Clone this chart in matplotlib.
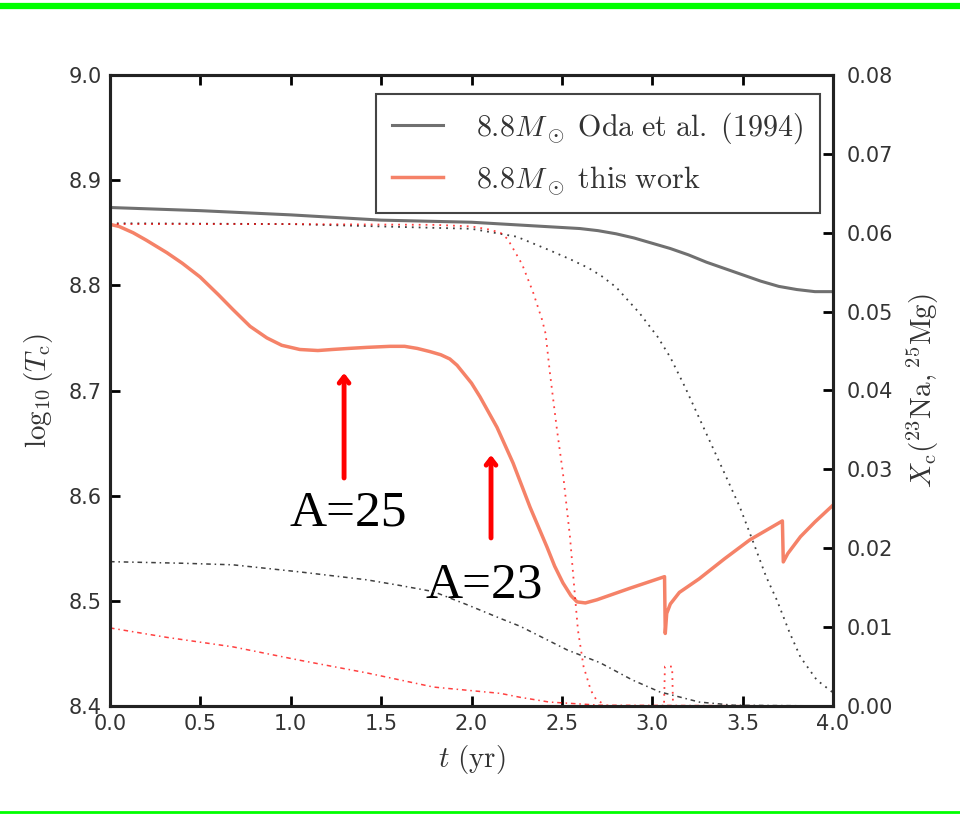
import numpy as np
import matplotlib
matplotlib.use("Agg")
import matplotlib.pyplot as plt
from matplotlib.lines import Line2D

plt.rcParams['mathtext.fontset'] = 'cm'

### central temperature, left axis
t_oda = [0.0, 0.5, 1.0, 1.5, 2.0, 2.3, 2.6, 2.7, 2.8, 2.9, 3.0, 3.1, 3.2,
         3.3, 3.4, 3.5, 3.6, 3.7, 3.8, 3.9, 4.0]
logT_oda = [8.874, 8.871, 8.867, 8.862, 8.860, 8.857, 8.854, 8.852, 8.849,
            8.845, 8.840, 8.835, 8.829, 8.822, 8.816, 8.810, 8.804, 8.799,
            8.796, 8.794, 8.794]

t_this = [0.0, 0.05, 0.128, 0.2, 0.315, 0.4, 0.498, 0.6, 0.68, 0.775, 0.868,
          0.95, 1.05, 1.15, 1.23, 1.32, 1.42, 1.55, 1.63, 1.70, 1.77, 1.83,
          1.88, 1.92, 1.953, 2.0, 2.047, 2.141, 2.230, 2.324, 2.418, 2.46,
          2.506, 2.55, 2.584, 2.63, 2.694, 2.877, 3.068, 3.072, 3.08, 3.10,
          3.15, 3.26, 3.40, 3.54, 3.72, 3.725, 3.75, 3.82, 3.90, 4.0]
logT_this = [8.858, 8.856, 8.850, 8.843, 8.831, 8.821, 8.808, 8.791, 8.777,
             8.761, 8.750, 8.743, 8.739, 8.738, 8.739, 8.740, 8.741, 8.742,
             8.742, 8.740, 8.737, 8.734, 8.730, 8.724, 8.717, 8.707, 8.694,
             8.665, 8.631, 8.589, 8.551, 8.533, 8.517, 8.505, 8.499, 8.498,
             8.501, 8.512, 8.523, 8.469, 8.488, 8.497, 8.508, 8.521, 8.540,
             8.558, 8.576, 8.537, 8.545, 8.561, 8.575, 8.591]

### central abundances, right axis
t_na_oda = [0.0, 1.0, 2.0, 2.25, 2.43, 2.55, 2.65, 2.72, 2.80, 2.93, 3.03,
            3.10, 3.18, 3.26, 3.38, 3.485, 3.56, 3.63, 3.69, 3.76, 3.82, 3.91,
            4.0]
na_oda = [0.0612, 0.0611, 0.0605, 0.0595, 0.0578, 0.0566, 0.0555, 0.0545,
          0.0531, 0.0498, 0.0468, 0.0442, 0.0405, 0.0365, 0.0305, 0.0252,
          0.0207, 0.0164, 0.0134, 0.0093, 0.0062, 0.0033, 0.0017]

t_na_this = [0.0, 1.0, 1.8, 2.0, 2.1, 2.16, 2.2, 2.28, 2.34, 2.39, 2.41,
             2.434, 2.473, 2.506, 2.545, 2.573, 2.589, 2.62, 2.66, 2.69, 2.75,
             3.065, 3.07, 3.11, 3.115, 4.0]
na_this = [0.0611, 0.0611, 0.0610, 0.0608, 0.0604, 0.0600, 0.0592, 0.0560,
           0.0525, 0.0490, 0.0472, 0.0422, 0.0350, 0.0295, 0.0214, 0.0138,
           0.0096, 0.0050, 0.0020, 0.0008, 0.0, 0.0, 0.0050, 0.0050, 0.0, 0.0]

t_mg_oda = [0.0, 0.40, 0.68, 1.05, 1.42, 1.60, 1.79, 1.98, 2.16, 2.27, 2.53,
            2.71, 2.89, 3.04, 3.26, 3.45, 4.0]
mg_oda = [0.0183, 0.0181, 0.0179, 0.0170, 0.0160, 0.0153, 0.0145, 0.0128,
          0.0111, 0.0101, 0.0071, 0.0055, 0.0033, 0.0018, 0.0005, 0.0001, 0.0]

t_mg_this = [0.0, 0.315, 0.68, 1.05, 1.42, 1.79, 2.16, 2.27, 2.43, 2.71, 4.0]
mg_this = [0.0099, 0.0087, 0.0075, 0.0058, 0.0042, 0.0024, 0.0016, 0.0011,
           0.0005, 0.0001, 0.0]

labels = [r'$8.8M_\odot\ \mathrm{Oda\ et\ al.\ (1994)}$',
          r'$8.8M_\odot\ \mathrm{this\ work}$']

gray = '#707070'
salmon = '#f58268'

fig = plt.figure(figsize=(9.6, 8.15), dpi=100)
ax = fig.add_axes([110/960, 1-706/815, 723/960, 631/815])
ax2 = ax.twinx()

l1, = ax.plot(t_oda, logT_oda, color=gray, lw=2.2)
l2, = ax.plot(t_this, logT_this, color=salmon, lw=2.5)

dot = (0, (1, 2.8))
dashdot = (0, (3, 2.5, 1, 2.5))
ax2.plot(t_na_oda, na_oda, color='#404040', lw=1.3, ls=dot)
ax2.plot(t_na_this, na_this, color='red', lw=1.3, ls=dot, alpha=0.75)
ax2.plot(t_mg_oda, mg_oda, color='#404040', lw=1.1, ls=dashdot)
ax2.plot(t_mg_this, mg_this, color='red', lw=1.1, ls=dashdot, alpha=0.75)

ax.set_xlim(0, 4)
ax.set_ylim(8.4, 9.0)
ax2.set_ylim(0, 0.08)
ax.set_xticks(np.arange(0, 4.01, 0.5))
ax.set_yticks(np.arange(8.4, 9.01, 0.1))
ax2.set_yticks(np.arange(0, 0.081, 0.01))

for a in (ax, ax2):
    for s in a.spines.values():
        s.set_linewidth(2.2)
        s.set_color('#222222')
ax.tick_params(axis='x', direction='in', top=True, length=7, width=2,
               labelsize=15, labelcolor='#333333', pad=6)
ax.tick_params(axis='y', direction='in', left=True, right=False, length=7,
               width=2, labelsize=15, labelcolor='#333333', pad=6)
ax2.tick_params(axis='y', direction='in', length=7, width=2, labelsize=15,
                labelcolor='#333333', pad=10)

ax.set_xlabel(r'$t\ \mathrm{(yr)}$', fontsize=21, color='#333333', labelpad=6)
ax.set_ylabel(r'$\log_{10}(T_{\rm c})$', fontsize=21, color='#333333', labelpad=10)
ax2.set_ylabel(r'$X_{\rm c}(^{23}{\rm Na},^{25}{\rm Mg})$', fontsize=21,
               color='#333333', labelpad=8)

leg = ax2.legend([l1, l2], labels, loc='upper right', bbox_to_anchor=(0.982, 0.970),
                 borderaxespad=0, fontsize=21.6, handlelength=1.7, handletextpad=1.1,
                 borderpad=0.55, labelspacing=0.6, fancybox=False, framealpha=1)
leg.get_frame().set_edgecolor('#444444')
leg.get_frame().set_linewidth(1.5)
for txt in leg.get_texts():
    txt.set_color('#333333')

# arrows with A labels
arrow = dict(arrowstyle='->,head_width=0.35,head_length=0.45', color='red',
             lw=3.5, shrinkA=0, shrinkB=0)
ax.annotate('', xy=(1.295, 8.7167), xytext=(1.295, 8.6168), arrowprops=arrow)
ax.annotate('', xy=(2.108, 8.6387), xytext=(2.108, 8.5598), arrowprops=arrow)
ax.text(1.317, 8.5721, 'A=25', fontsize=37, family='Liberation Serif',
        ha='center', va='baseline')
ax.text(2.069, 8.5027, 'A=23', fontsize=37, family='Liberation Serif',
        ha='center', va='baseline')

# green frame lines of the screenshot
fig.add_artist(Line2D([0, 1], [1-6/815, 1-6/815], color='#00ff00', lw=4.5))
fig.add_artist(Line2D([0, 1], [1-812/815, 1-812/815], color='#00ff00', lw=2))

fig.savefig('out.png', dpi=100)
